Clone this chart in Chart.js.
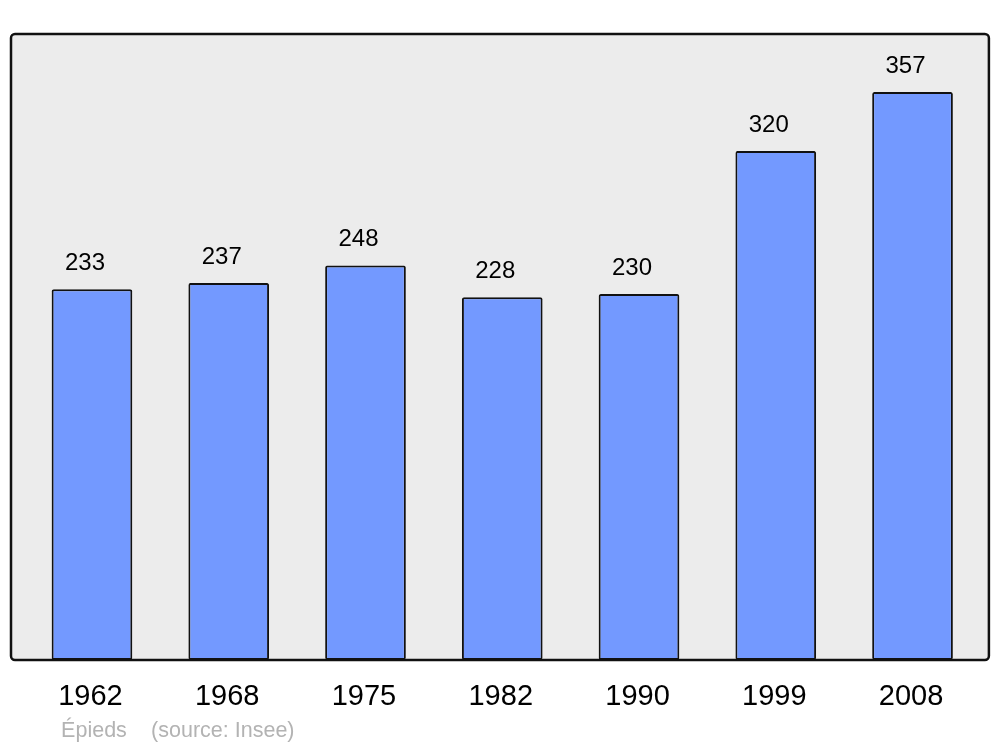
<!DOCTYPE html>
<html>
<head>
<meta charset="utf-8">
<script src="https://cdn.jsdelivr.net/npm/chart.js@4/dist/chart.umd.min.js"></script>
<style>
  body { margin: 0; background: #fff; }
  #wrap { width: 1000px; height: 747px; }
</style>
</head>
<body>
<div id="wrap"><canvas id="myChart" width="1000" height="747"></canvas></div>
<script>
const years = ['1962', '1968', '1975', '1982', '1990', '1999', '2008'];
const population = [233, 237, 248, 228, 230, 320, 357];
const place = 'Épieds';
const source = '(source: Insee)';

// grey frame behind the bars
const framePlugin = {
  id: 'frame',
  beforeDraw(chart) {
    const a = chart.chartArea;
    const c = chart.ctx;
    const x0 = a.left - 12.6, x1 = a.right + 8;
    c.save();
    c.beginPath();
    c.roundRect(x0, a.top, x1 - x0, a.bottom - a.top, 4);
    c.fillStyle = '#ececec';
    c.fill();
    c.lineWidth = 2.5;
    c.strokeStyle = '#111';
    c.stroke();
    c.restore();
  }
};

// value above each bar + footer
const labelPlugin = {
  id: 'labels',
  afterDatasetsDraw(chart) {
    const c = chart.ctx;
    const meta = chart.getDatasetMeta(0);
    c.save();
    c.font = '24px "Liberation Sans", Arial, sans-serif';
    c.fillStyle = '#000';
    c.textAlign = 'center';
    c.textBaseline = 'middle';
    meta.data.forEach((bar, i) => {
      c.fillText(population[i], bar.x - 7, bar.y - 26);
    });
    c.font = '21.5px "Liberation Sans", Arial, sans-serif';
    c.fillStyle = '#b3b3b3';
    c.textAlign = 'left';
    const a = chart.chartArea;
    c.fillText(place, a.left + 37.5, 731);
    c.fillText(source, a.left + 127.5, 731);
    c.restore();
  }
};

const ctx = document.getElementById('myChart').getContext('2d');
let myChart = new Chart(ctx, {
  type: 'bar',
  data: {
    labels: years,
    datasets: [{
      data: population,
      backgroundColor: '#7399ff',
      borderColor: '#111',
      borderWidth: 2,
      borderRadius: 2,
      borderSkipped: false,
      barPercentage: 0.59,
      categoryPercentage: 1
    }]
  },
  options: {
    responsive: false,
    animation: false,
    layout: { padding: { left: 23.6, right: 19.1, top: 34, bottom: 0 } },
    plugins: { legend: { display: false }, tooltip: { enabled: false } },
    scales: {
      x: {
        grid: { display: false, drawTicks: false },
        border: { display: false },
        ticks: {
          color: '#000',
          padding: 20,
          labelOffset: -1.5,
          font: { size: 29, family: '"Liberation Sans", Arial, sans-serif' }
        },
        afterFit(scale) { scale.height = 87; }
      },
      y: { display: false, min: 0, max: 393.5 }
    }
  },
  plugins: [framePlugin, labelPlugin]
});
</script>
</body>
</html>
